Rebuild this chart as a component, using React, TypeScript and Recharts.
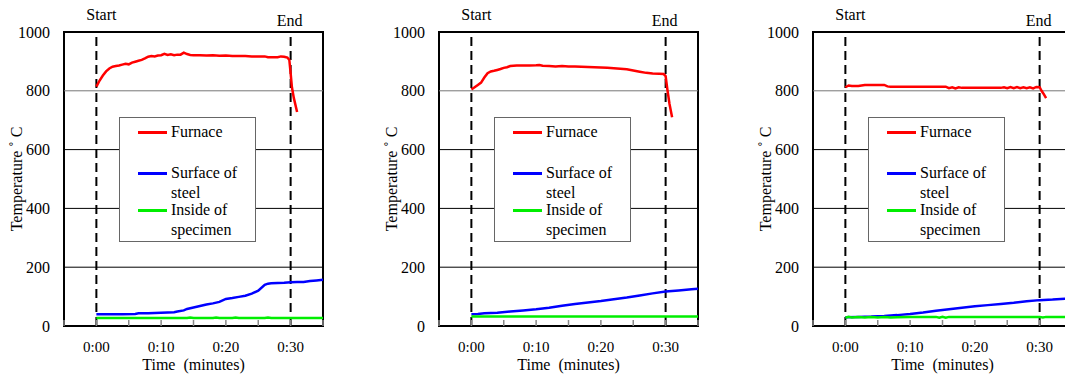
import { LineChart, Line, XAxis, YAxis, ReferenceLine, ReferenceArea, Legend } from "recharts";

const FONT = '"Liberation Serif", "Times New Roman", serif';

const timeTicks = [-5, 0, 5, 10, 15, 20, 25, 30, 35];
const timeLabels = ["0:00", "0:10", "0:20", "0:30"];
const labelledTimes = [0, 10, 20, 30];
const tempTicks = [0, 200, 400, 600, 800, 1000];
const gridTemps = [200, 400, 600, 800];
const seriesNames = ["Furnace", "Surface of steel", "Inside of specimen"];
const seriesColors = ["#ff0000", "#0000ff", "#00ee00"];

// panel 1
const p1FurnaceTime = [0, 0.5, 1, 1.5, 2, 2.5, 3, 3.5, 4, 4.5, 5, 5.5, 6, 6.5, 7, 7.5, 8, 8.5, 9, 9.5, 10, 10.5, 11, 11.5, 12, 12.5, 13, 13.5, 14, 14.5, 15, 16, 17, 18, 19, 20, 21, 22, 23, 24, 25, 26, 26.5, 27, 28, 28.5, 29, 29.5, 29.8, 30, 30.2, 30.5, 31];
const p1FurnaceTemp = [814, 835, 852, 866, 876, 882, 884, 886, 889, 892, 890, 896, 899, 902, 905, 910, 916, 918, 917, 920, 921, 926, 922, 924, 921, 923, 923, 930, 925, 922, 921, 921, 920, 921, 919, 920, 918, 918, 918, 917, 917, 917, 914, 914, 914, 917, 916, 913, 905, 860, 812, 775, 728];
const p1SurfaceTime = [0, 2, 4, 6, 6.5, 8, 10, 11, 12, 12.5, 13.5, 14, 15, 16, 17, 18, 19, 20, 21, 22, 23, 24, 25, 26, 26.5, 27, 28, 29, 30, 31, 32, 33, 34, 35];
const p1SurfaceTemp = [40, 40, 40, 41, 43, 43, 45, 46, 47, 49, 53, 58, 63, 68, 73, 77, 82, 92, 95, 99, 103, 110, 120, 140, 144, 145, 146, 147, 149, 150, 150, 153, 155, 157];
const p1InsideTime = [0, 5, 10, 14, 14.5, 15, 18, 18.5, 19, 21, 21.5, 22, 26, 26.5, 27, 30, 35];
const p1InsideTemp = [27, 27, 27, 27, 29, 27, 27, 29, 27, 27, 29, 27, 27, 29, 27, 27, 27];

// panel 2
const p2FurnaceTime = [0, 0.5, 1, 1.5, 2, 2.5, 3, 3.5, 4, 4.5, 5, 5.5, 6, 7, 8, 9, 10, 10.5, 11, 12, 13, 14, 15, 16, 17, 18, 19, 20, 21, 22, 23, 24, 25, 26, 27, 28, 29, 29.7, 30, 30.3, 30.6, 31];
const p2FurnaceTemp = [805, 812, 820, 828, 845, 860, 866, 868, 871, 874, 878, 880, 884, 886, 886, 886, 887, 888, 885, 884, 883, 884, 883, 883, 882, 881, 880, 879, 878, 877, 875, 873, 869, 865, 861, 859, 858, 857, 850, 800, 755, 710];
const p2SurfaceTime = [0, 1, 2, 4, 6, 8, 10, 12, 14, 16, 18, 20, 22, 24, 26, 28, 30, 32, 34, 35];
const p2SurfaceTemp = [40, 41, 43, 45, 49, 53, 57, 62, 69, 75, 80, 85, 91, 97, 104, 111, 117, 121, 125, 127];
const p2InsideTime = [0, 10, 20, 30, 35];
const p2InsideTemp = [32, 32, 32, 32, 32];

// panel 3
const p3FurnaceTime = [0, 0.5, 1, 2, 2.5, 3, 4, 5, 6, 6.5, 7, 10, 13, 15.5, 16, 16.5, 17, 17.5, 18, 20, 22, 24, 24.5, 25, 25.5, 26, 26.5, 27, 27.5, 28, 28.5, 29, 29.5, 30, 30.3, 30.6, 31];
const p3FurnaceTemp = [812, 818, 816, 816, 818, 820, 820, 820, 820, 815, 814, 814, 814, 814, 809, 812, 808, 812, 810, 810, 810, 810, 812, 809, 813, 809, 813, 809, 812, 809, 812, 808, 813, 812, 800, 790, 775];
const p3SurfaceTime = [0, 2, 4, 6, 8, 10, 12, 14, 16, 18, 20, 22, 24, 26, 28, 30, 32, 34, 35];
const p3SurfaceTemp = [30, 31, 32, 34, 37, 41, 46, 52, 57, 62, 67, 71, 75, 79, 84, 88, 90, 93, 95];
const p3InsideTime = [0, 0.5, 1, 2, 3, 4, 5, 6, 7, 8, 10, 14, 14.5, 15, 15.5, 16, 20, 30, 30.5, 31, 35];
const p3InsideTemp = [28, 31, 29, 31, 29, 31, 29, 31, 29, 30, 31, 31, 28, 31, 28, 31, 31, 31, 29, 31, 31];

const zip = (t: number[], v: number[]) => t.map((time, i) => ({ time, temp: v[i] }));

const panels = [
  { left: 0, series: [zip(p1FurnaceTime, p1FurnaceTemp), zip(p1SurfaceTime, p1SurfaceTemp), zip(p1InsideTime, p1InsideTemp)] },
  { left: 375, series: [zip(p2FurnaceTime, p2FurnaceTemp), zip(p2SurfaceTime, p2SurfaceTemp), zip(p2InsideTime, p2InsideTemp)] },
  { left: 749, series: [zip(p3FurnaceTime, p3FurnaceTemp), zip(p3SurfaceTime, p3SurfaceTemp), zip(p3InsideTime, p3InsideTemp)] },
];

function TimeTick({ x, y, payload }: any) {
  const idx = labelledTimes.indexOf(payload.value);
  return (
    <g>
      <line x1={x} x2={x} y1={y - 6} y2={y} stroke="#888" strokeWidth={1.5} />
      {idx >= 0 && (
        <text x={x} y={y + 26} textAnchor="middle" fontSize={15} style={{ fontFamily: FONT }} fill="#000">
          {timeLabels[idx]}
        </text>
      )}
    </g>
  );
}

function YTitle({ viewBox }: any) {
  const cx = viewBox.x + 16;
  const cy = viewBox.y + viewBox.height / 2;
  return (
    <text x={cx} y={cy} transform={`rotate(-90 ${cx} ${cy})`} textAnchor="middle" dominantBaseline="central" fontSize={16} style={{ fontFamily: FONT }} fill="#000">
      Temperature ˚ C
    </text>
  );
}

function XTitle({ viewBox }: any) {
  return (
    <text x={viewBox.x + viewBox.width / 2} y={viewBox.y + 44} textAnchor="middle" fontSize={16} fill="#000" style={{ whiteSpace: "pre", fontFamily: FONT }}>
      {"Time  (minutes)"}
    </text>
  );
}

function EdgeLabel({ viewBox, text, dx, dy }: any) {
  return (
    <text x={viewBox.x + dx} y={viewBox.y + dy} textAnchor="middle" fontSize={16} style={{ fontFamily: FONT }} fill="#000">
      {text}
    </text>
  );
}

// legend keeps the series order, not the alphabetical one
function LegendBox({ payload }: any) {
  const tops = [4, 45, 82];
  const items = seriesNames.map((n) => (payload || []).find((p: any) => p.value === n)).filter(Boolean);
  return (
    <div style={{ position: "relative", width: 137, height: 125, boxSizing: "border-box", border: "1px solid #666", background: "#fff", fontFamily: FONT, fontSize: 16, lineHeight: "20px", color: "#000" }}>
      {items.map((p: any, i: number) => (
        <div key={p.value} style={{ position: "absolute", left: 0, top: tops[i], width: 137 }}>
          <div style={{ position: "absolute", left: 18, top: 9, width: 29, height: 2.5, background: p.color }} />
          <div style={{ position: "absolute", left: 51, top: 0, width: 80 }}>{p.value}</div>
        </div>
      ))}
    </div>
  );
}

function Panel({ series }: { series: { time: number; temp: number }[][] }) {
  return (
    <LineChart width={333} height={376} margin={{ top: 32, right: 10, bottom: 0, left: 0 }}>
      <XAxis
        dataKey="time"
        type="number"
        domain={[-5, 35]}
        ticks={timeTicks}
        interval={0}
        axisLine={false}
        tickLine={false}
        tickSize={0}
        tickMargin={0}
        height={50}
        tick={<TimeTick />}
        label={<XTitle />}
      />
      <YAxis
        type="number"
        domain={[0, 1000]}
        ticks={tempTicks}
        interval={0}
        width={64}
        axisLine={false}
        tickLine={false}
        tickSize={0}
        tickMargin={14}
        tick={{ fontSize: 16, fill: "#000", style: { fontFamily: FONT } }}
        label={<YTitle />}
      />
      {gridTemps.map((t) => (
        <ReferenceLine key={t} y={t} stroke={t === 800 ? "#777" : "#000"} strokeWidth={1} />
      ))}
      <ReferenceLine x={0} stroke="#000" strokeWidth={2} strokeDasharray="9 5" label={<EdgeLabel text="Start" dx={5} dy={-12} />} />
      <ReferenceLine x={30} stroke="#000" strokeWidth={2} strokeDasharray="9 5" label={<EdgeLabel text="End" dx={-1} dy={-6} />} />
      <ReferenceArea x1={-5} x2={35} y1={0} y2={1000} fill="none" fillOpacity={0} stroke="#000" strokeWidth={2} />
      {series.map((d, i) => (
        <Line
          key={seriesNames[i]}
          data={d}
          dataKey="temp"
          name={seriesNames[i]}
          stroke={seriesColors[i]}
          strokeWidth={2.5}
          dot={false}
          type="linear"
          isAnimationActive={false}
        />
      ))}
      <Legend
        verticalAlign="middle"
        align="center"
        layout="horizontal"
        wrapperStyle={{ left: 119, top: 117, width: 137, height: 125 }}
        content={<LegendBox />}
      />
    </LineChart>
  );
}

export default function App() {
  return (
    <div style={{ position: "absolute", left: 0, top: 0, width: 1065, height: 376, overflow: "hidden", background: "#fff" }}>
      {panels.map((p, i) => (
        <div key={i} style={{ position: "absolute", left: p.left, top: 0 }}>
          <Panel series={p.series} />
        </div>
      ))}
    </div>
  );
}
